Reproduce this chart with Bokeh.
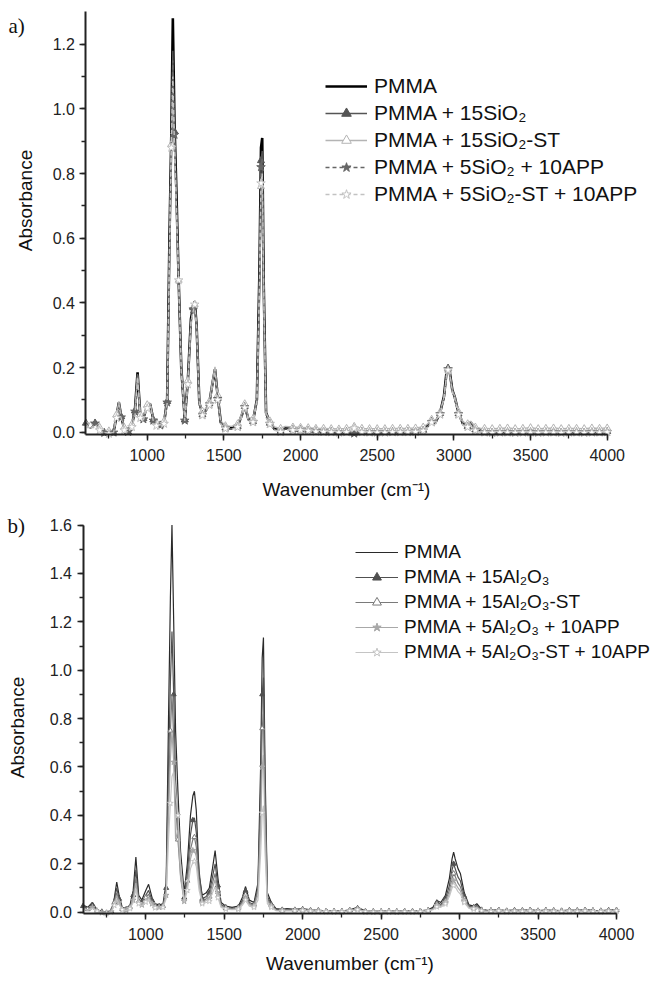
import math
from bokeh.plotting import figure
from bokeh.models import (Range1d, SingleIntervalTicker, Legend, LegendItem, Label,
                          PrintfTickFormatter)
from bokeh.layouts import column
from bokeh.embed import file_html
from bokeh.resources import INLINE

# ---------------- data ----------------
wavenumber = [
    600, 630, 660, 690, 720, 750, 780, 800, 815, 830, 850, 875, 900, 920, 937, 955, 975, 1000,
    1018, 1040, 1060, 1085, 1110, 1130, 1145, 1157, 1167, 1178, 1190, 1205, 1222, 1245, 1265, 1285,
    1300, 1310, 1322, 1340, 1360, 1385, 1405, 1425, 1442, 1460, 1480,
    1510, 1550, 1590, 1615, 1636, 1660, 1690, 1715, 1732, 1742, 1750, 1760, 1775, 1800, 1830, 1870, 1900,
    1950, 2000, 2050, 2100, 2150, 2200, 2250, 2300, 2350, 2400, 2450, 2500, 2550, 2600, 2650, 2700, 2750, 2800,
    2830, 2855, 2880, 2910, 2935, 2952, 2962, 2972, 2990, 3005, 3030, 3060, 3090, 3110, 3140, 3175,
    3200, 3250, 3300, 3350, 3400, 3450, 3500, 3550, 3600, 3650, 3700, 3750, 3800, 3850, 3900, 3950, 4000,
]

# panel a) SiO2 series
a_pmma = [
    0.030, 0.015, 0.030, 0.010, 0.000, -0.003, 0.000, 0.050, 0.092, 0.050, 0.010, 0.003, 0.020, 0.070, 0.185, 0.050, 0.045, 0.080,
    0.088, 0.040, 0.025, 0.025, 0.030, 0.100, 0.600, 0.920, 1.280, 0.950, 0.750, 0.470, 0.200, 0.040, 0.160, 0.350, 0.390, 0.405, 0.330, 0.090, 0.060, 0.070, 0.090, 0.150, 0.195, 0.110, 0.030,
    0.015, 0.012, 0.020, 0.050, 0.082, 0.040, 0.035, 0.100, 0.500, 0.880, 0.910, 0.450, 0.060, 0.030, 0.010, 0.005, 0.012,
    0.010, 0.010, 0.008, 0.005, 0.004, 0.003, 0.002, 0.003, -0.005, 0.003, 0.002, 0.002, 0.002, 0.003, 0.003, 0.003, 0.004, 0.008,
    0.020, 0.036, 0.030, 0.060, 0.110, 0.185, 0.200, 0.190, 0.130, 0.110, 0.060, 0.025, 0.020, 0.030, 0.010, 0.004,
    0.003, 0.002, 0.003, 0.002, 0.002, 0.003, 0.002, 0.002, 0.003, 0.002, 0.002, 0.003, 0.002, 0.003, 0.002, 0.003, 0.004,
]
a_15sio2 = [
    0.028, 0.012, 0.028, 0.008, -0.002, -0.005, -0.002, 0.048, 0.090, 0.048, 0.008, 0.001, 0.018, 0.066, 0.180, 0.048, 0.042, 0.078,
    0.086, 0.038, 0.022, 0.022, 0.028, 0.095, 0.580, 0.900, 1.180, 0.930, 0.730, 0.460, 0.195, 0.038, 0.155, 0.340, 0.385, 0.400, 0.325, 0.088, 0.055, 0.066, 0.088, 0.148, 0.190, 0.105, 0.028,
    0.013, 0.010, 0.018, 0.048, 0.080, 0.038, 0.033, 0.095, 0.480, 0.840, 0.870, 0.440, 0.056, 0.028, 0.008, 0.003, 0.010,
    0.008, 0.008, 0.006, 0.004, 0.003, 0.002, 0.001, 0.002, -0.003, 0.002, 0.001, 0.001, 0.001, 0.002, 0.002, 0.002, 0.003, 0.006,
    0.018, 0.034, 0.028, 0.058, 0.105, 0.180, 0.198, 0.188, 0.128, 0.108, 0.058, 0.024, 0.018, 0.028, 0.008, 0.002,
    0.001, 0.000, 0.001, 0.000, 0.001, 0.001, 0.000, 0.001, 0.001, 0.000, 0.001, 0.001, 0.000, 0.001, 0.000, 0.001, 0.002,
]
a_15sio2_st = [
    0.035, 0.020, 0.032, 0.015, 0.006, 0.004, 0.006, 0.055, 0.095, 0.055, 0.015, 0.010, 0.025, 0.072, 0.175, 0.055, 0.050, 0.085,
    0.090, 0.045, 0.030, 0.030, 0.035, 0.100, 0.560, 0.890, 1.050, 0.900, 0.700, 0.470, 0.205, 0.045, 0.160, 0.340, 0.380, 0.395, 0.330, 0.095, 0.065, 0.075, 0.095, 0.158, 0.202, 0.115, 0.035,
    0.020, 0.018, 0.026, 0.056, 0.088, 0.046, 0.042, 0.100, 0.450, 0.760, 0.800, 0.420, 0.060, 0.035, 0.016, 0.012, 0.018,
    0.016, 0.015, 0.014, 0.012, 0.012, 0.011, 0.010, 0.012, 0.018, 0.012, 0.011, 0.011, 0.011, 0.012, 0.012, 0.012, 0.013, 0.016,
    0.026, 0.040, 0.035, 0.062, 0.108, 0.175, 0.192, 0.185, 0.130, 0.112, 0.064, 0.032, 0.026, 0.034, 0.016, 0.012,
    0.012, 0.011, 0.012, 0.013, 0.011, 0.012, 0.014, 0.011, 0.012, 0.013, 0.011, 0.012, 0.012, 0.011, 0.013, 0.012, 0.013,
]
a_5sio2_app = [
    0.026, 0.012, 0.027, 0.007, -0.002, -0.004, -0.001, 0.046, 0.088, 0.046, 0.007, 0.001, 0.017, 0.064, 0.178, 0.046, 0.040, 0.076,
    0.084, 0.036, 0.021, 0.021, 0.027, 0.092, 0.570, 0.920, 1.150, 0.920, 0.720, 0.470, 0.190, 0.036, 0.150, 0.340, 0.380, 0.398, 0.322, 0.085, 0.054, 0.068, 0.086, 0.145, 0.188, 0.103, 0.026,
    0.012, 0.009, 0.017, 0.046, 0.078, 0.037, 0.032, 0.092, 0.470, 0.820, 0.850, 0.430, 0.046, 0.026, 0.007, 0.002, 0.009,
    0.007, 0.007, 0.005, 0.003, 0.002, 0.001, 0.000, 0.001, -0.004, 0.001, 0.000, 0.000, 0.000, 0.001, 0.001, 0.001, 0.002, 0.005,
    0.017, 0.032, 0.026, 0.056, 0.108, 0.178, 0.195, 0.186, 0.125, 0.106, 0.056, 0.022, 0.017, 0.026, 0.006, 0.001,
    0.000, -0.001, 0.000, 0.000, -0.001, 0.000, 0.000, -0.001, 0.000, 0.000, -0.001, 0.000, 0.000, -0.001, 0.000, 0.000, 0.001,
]
a_5sio2_st_app = [
    0.024, 0.010, 0.025, 0.006, -0.003, -0.005, -0.002, 0.044, 0.086, 0.044, 0.006, 0.000, 0.016, 0.048, 0.170, 0.044, 0.038, 0.074,
    0.082, 0.034, 0.020, 0.020, 0.026, 0.090, 0.550, 0.880, 1.100, 0.880, 0.700, 0.470, 0.185, 0.035, 0.148, 0.335, 0.375, 0.395, 0.320, 0.080, 0.052, 0.066, 0.084, 0.142, 0.186, 0.100, 0.025,
    0.011, 0.008, 0.016, 0.045, 0.076, 0.036, 0.031, 0.090, 0.450, 0.770, 0.800, 0.420, 0.046, 0.025, 0.006, 0.001, 0.008,
    0.006, 0.006, 0.004, 0.002, 0.001, 0.000, -0.001, 0.000, 0.012, 0.000, -0.001, -0.001, -0.001, 0.000, 0.000, 0.000, 0.001, 0.004,
    0.016, 0.030, 0.025, 0.054, 0.105, 0.175, 0.192, 0.184, 0.122, 0.104, 0.054, 0.021, 0.016, 0.025, 0.005, 0.000,
    -0.001, -0.002, -0.001, -0.001, -0.002, -0.001, -0.001, -0.002, -0.001, -0.001, -0.002, -0.001, -0.001, -0.002, -0.001, -0.001, 0.000,
]

# panel b) Al2O3 series
b_pmma = [
    0.030, 0.020, 0.040, 0.010, 0.003, 0.000, 0.005, 0.060, 0.124, 0.070, 0.020, 0.015, 0.030, 0.090, 0.228, 0.070, 0.050, 0.090,
    0.115, 0.060, 0.035, 0.030, 0.035, 0.120, 0.800, 1.300, 1.600, 1.200, 0.750, 0.500, 0.250, 0.080, 0.200, 0.400, 0.480, 0.500, 0.420, 0.150, 0.070, 0.080, 0.100, 0.180, 0.255, 0.140, 0.040,
    0.025, 0.020, 0.025, 0.060, 0.106, 0.050, 0.040, 0.120, 0.600, 1.050, 1.135, 0.600, 0.080, 0.040, 0.015, 0.012, 0.015,
    0.012, 0.015, 0.010, 0.008, 0.006, 0.005, 0.005, 0.010, 0.020, 0.005, 0.004, 0.004, 0.005, 0.004, 0.005, 0.005, 0.006, 0.010,
    0.020, 0.048, 0.040, 0.070, 0.140, 0.220, 0.248, 0.220, 0.180, 0.160, 0.080, 0.030, 0.025, 0.035, 0.012, 0.008,
    0.008, 0.010, 0.007, 0.009, 0.008, 0.010, 0.007, 0.009, 0.008, 0.007, 0.009, 0.008, 0.010, 0.008, 0.007, 0.009, 0.010,
]
b_15al2o3 = [
    0.025, 0.015, 0.030, 0.008, 0.002, 0.000, 0.004, 0.050, 0.100, 0.055, 0.016, 0.012, 0.025, 0.070, 0.175, 0.055, 0.040, 0.070,
    0.090, 0.048, 0.028, 0.025, 0.028, 0.100, 0.600, 0.950, 1.160, 0.900, 0.550, 0.360, 0.180, 0.060, 0.160, 0.320, 0.380, 0.390, 0.330, 0.170, 0.055, 0.065, 0.080, 0.145, 0.200, 0.110, 0.032,
    0.020, 0.016, 0.020, 0.048, 0.088, 0.040, 0.032, 0.100, 0.500, 0.900, 0.970, 0.520, 0.065, 0.032, 0.012, 0.010, 0.012,
    0.010, 0.012, 0.008, 0.007, 0.005, 0.004, 0.004, 0.008, 0.016, 0.004, 0.003, 0.003, 0.004, 0.003, 0.004, 0.004, 0.005, 0.008,
    0.016, 0.040, 0.032, 0.056, 0.110, 0.175, 0.200, 0.180, 0.145, 0.130, 0.065, 0.025, 0.020, 0.028, 0.010, 0.007,
    0.007, 0.009, 0.006, 0.008, 0.007, 0.009, 0.006, 0.008, 0.007, 0.006, 0.008, 0.007, 0.009, 0.007, 0.006, 0.008, 0.009,
]
b_15al2o3_st = [
    0.020, 0.012, 0.025, 0.006, 0.000, -0.002, 0.003, 0.040, 0.080, 0.045, 0.013, 0.010, 0.020, 0.060, 0.140, 0.045, 0.035, 0.060,
    0.075, 0.040, 0.024, 0.022, 0.025, 0.080, 0.480, 0.750, 0.900, 0.720, 0.450, 0.300, 0.150, 0.050, 0.130, 0.260, 0.300, 0.310, 0.270, 0.130, 0.045, 0.055, 0.065, 0.120, 0.160, 0.090, 0.028,
    0.017, 0.013, 0.018, 0.040, 0.072, 0.035, 0.028, 0.090, 0.420, 0.760, 0.820, 0.440, 0.055, 0.028, 0.010, 0.008, 0.010,
    0.008, 0.010, 0.007, 0.006, 0.004, 0.003, 0.003, 0.007, 0.014, 0.003, 0.002, 0.002, 0.003, 0.002, 0.003, 0.003, 0.004, 0.007,
    0.014, 0.034, 0.028, 0.046, 0.090, 0.140, 0.160, 0.148, 0.120, 0.105, 0.055, 0.022, 0.018, 0.024, 0.008, 0.006,
    0.006, 0.008, 0.005, 0.007, 0.006, 0.008, 0.005, 0.007, 0.006, 0.005, 0.007, 0.006, 0.008, 0.006, 0.005, 0.007, 0.008,
]
b_5al2o3_app = [
    0.018, 0.010, 0.020, 0.005, -0.002, -0.004, 0.002, 0.035, 0.068, 0.040, 0.012, 0.008, 0.018, 0.050, 0.120, 0.040, 0.030, 0.050,
    0.063, 0.035, 0.020, 0.020, 0.022, 0.070, 0.400, 0.630, 0.750, 0.620, 0.300, 0.340, 0.140, 0.045, 0.110, 0.220, 0.255, 0.260, 0.230, 0.110, 0.040, 0.048, 0.055, 0.100, 0.135, 0.075, 0.024,
    0.015, 0.012, 0.015, 0.035, 0.060, 0.030, 0.025, 0.070, 0.340, 0.600, 0.650, 0.350, 0.045, 0.025, 0.008, 0.006, 0.008,
    0.007, 0.009, 0.006, 0.005, 0.003, 0.002, 0.002, 0.006, 0.012, 0.002, 0.001, 0.001, 0.002, 0.001, 0.002, 0.002, 0.003, 0.006,
    0.012, 0.028, 0.024, 0.040, 0.075, 0.115, 0.130, 0.120, 0.100, 0.088, 0.046, 0.019, 0.016, 0.020, 0.006, 0.004,
    0.004, 0.006, 0.003, 0.005, 0.004, 0.006, 0.003, 0.005, 0.004, 0.003, 0.005, 0.004, 0.006, 0.004, 0.003, 0.005, 0.006,
]
b_5al2o3_st_app = [
    0.015, 0.008, 0.016, 0.004, -0.003, -0.005, 0.000, 0.028, 0.055, 0.032, 0.010, 0.006, 0.015, 0.040, 0.095, 0.035, 0.025, 0.042,
    0.052, 0.030, 0.018, 0.017, 0.020, 0.055, 0.300, 0.450, 0.560, 0.580, 0.500, 0.400, 0.200, 0.040, 0.090, 0.180, 0.205, 0.210, 0.190, 0.090, 0.035, 0.040, 0.045, 0.080, 0.105, 0.060, 0.020,
    0.013, 0.010, 0.012, 0.028, 0.050, 0.025, 0.020, 0.050, 0.240, 0.410, 0.440, 0.250, 0.035, 0.020, 0.006, 0.004, 0.006,
    0.005, 0.007, 0.004, 0.003, 0.002, 0.001, 0.001, 0.005, 0.010, 0.001, 0.000, 0.000, 0.001, 0.000, 0.001, 0.001, 0.002, 0.005,
    0.010, 0.022, 0.020, 0.034, 0.065, 0.100, 0.110, 0.105, 0.085, 0.075, 0.040, 0.016, 0.013, 0.017, 0.005, 0.003,
    0.003, 0.005, 0.002, 0.004, 0.003, 0.005, 0.002, 0.004, 0.003, 0.002, 0.004, 0.003, 0.005, 0.003, 0.002, 0.004, 0.005,
]

labels_a = ["PMMA", "PMMA + 15SiO\u2082", "PMMA + 15SiO\u2082-ST",
            "PMMA + 5SiO\u2082 + 10APP", "PMMA + 5SiO\u2082-ST + 10APP"]
labels_b = ["PMMA", "PMMA + 15Al\u2082O\u2083", "PMMA + 15Al\u2082O\u2083-ST",
            "PMMA + 5Al\u2082O\u2083 + 10APP", "PMMA + 5Al\u2082O\u2083-ST + 10APP"]

x_axis_start, x_axis_end = 600, 4000
ya_axis_top, yb_axis_top = 1.30, 1.60

series_a = [a_pmma, a_15sio2, a_15sio2_st, a_5sio2_app, a_5sio2_st_app]
series_b = [b_pmma, b_15al2o3, b_15al2o3_st, b_5al2o3_app, b_5al2o3_st_app]
for s in series_a + series_b:
    if len(s) != len(wavenumber):
        raise ValueError("length mismatch %d vs %d" % (len(s), len(wavenumber)))

# ---------------- styles ----------------
# (color, width, dash, marker, filled, marker size)
styles_a = [
    ("#000000", 2.6, "solid", None, False, 0),
    ("#555555", 1.4, "solid", "triangle", True, 7),
    ("#b4b4b4", 1.4, "solid", "triangle", False, 7),
    ("#666666", 1.4, "4 3", "star", True, 9),
    ("#c2c2c2", 1.4, "4 3", "star", False, 9),
]
styles_b = [
    ("#2a2a2a", 1.2, "solid", None, False, 0),
    ("#505050", 1.2, "solid", "triangle", True, 5),
    ("#7a7a7a", 1.2, "solid", "triangle", False, 5),
    ("#a8a8a8", 1.2, "solid", "star", True, 6),
    ("#c4c4c4", 1.2, "solid", "star", False, 6),
]

FONT = "Liberation Sans"


def marker_indices(offset, min_gap=45):
    idx = []
    last = None
    for i in range(max(offset, 0), len(wavenumber)):
        if last is None or wavenumber[i] - last >= min_gap:
            idx.append(i)
            last = wavenumber[i]
    return idx


def make_panel(series, labels, styles, width, height, x_range, y_range, x_axis_y,
               y_axis_top, x_lab_standoff, legend_cfg, tag, tag_xy, ylab_xy):
    p = figure(width=width, height=height, output_backend="svg", toolbar_location=None,
               x_range=Range1d(*x_range), y_range=Range1d(*y_range),
               min_border_left=0, min_border_right=0, min_border_top=0,
               min_border_bottom=0)
    p.outline_line_color = None
    p.xgrid.visible = False
    p.ygrid.visible = False
    p.background_fill_color = "white"
    p.border_fill_color = "white"

    p.xaxis.ticker = SingleIntervalTicker(interval=500, num_minor_ticks=2)
    p.yaxis.ticker = SingleIntervalTicker(interval=0.2, num_minor_ticks=2)
    p.yaxis.formatter = PrintfTickFormatter(format="%.1f")
    p.xaxis.bounds = (x_axis_start, x_axis_end)
    p.yaxis.bounds = (x_axis_y, y_axis_top)
    p.yaxis.fixed_location = x_axis_start
    p.xaxis.fixed_location = x_axis_y
    p.xaxis.axis_label = "Wavenumber (cm\u207b\u00b9)"
    for ax in (p.xaxis[0], p.yaxis[0]):
        ax.axis_line_width = 2
        ax.axis_line_color = "#222222"
        ax.major_tick_line_color = "#222222"
        ax.minor_tick_line_color = "#222222"
        ax.major_tick_line_width = 1.5
        ax.minor_tick_line_width = 1.3
        ax.major_tick_in = 0
        ax.major_tick_out = 6
        ax.minor_tick_in = 0
        ax.minor_tick_out = 4
        ax.major_label_text_font = FONT
        ax.major_label_text_font_size = "16px"
        ax.major_label_text_color = "#222222"
        ax.axis_label_text_font = FONT
        ax.axis_label_text_font_size = "19px"
        ax.axis_label_text_font_style = "normal"
        ax.axis_label_text_color = "#111111"
    p.xaxis.major_label_standoff = 8
    p.xaxis.axis_label_standoff = x_lab_standoff
    p.yaxis.major_label_standoff = 5

    p.add_layout(Label(x=ylab_xy[0], y=ylab_xy[1], x_units="screen", y_units="screen",
                       text="Absorbance", angle=math.pi / 2, text_align="center",
                       text_baseline="middle", text_font=FONT, text_font_size="19px",
                       text_color="#111111"))

    items = []
    for k, (ys, lab, st) in enumerate(zip(series, labels, styles)):
        color, lw, dash, marker, filled, msize = st
        r_line = p.line(wavenumber, ys, line_color=color, line_width=lw, line_dash=dash)
        rends = [r_line]
        if marker is not None:
            idx = marker_indices(k - 1)
            mx = [wavenumber[i] for i in idx]
            my = [ys[i] for i in idx]
            r_m = p.scatter(mx, my, marker=marker, size=msize, line_color=color,
                            fill_color=color if filled else "white", line_width=1)
            rends.append(r_m)
        items.append(LegendItem(label=lab, renderers=rends))

    loc, font_size, lab_h, spacing, glyph_w, standoff = legend_cfg
    legend = Legend(items=items, location=loc, orientation="vertical",
                    label_text_font=FONT, label_text_font_size=font_size,
                    label_text_color="#111111", glyph_width=glyph_w, glyph_height=lab_h,
                    label_height=lab_h, spacing=spacing, padding=0, margin=0,
                    label_standoff=standoff, border_line_color=None,
                    background_fill_alpha=0)
    p.add_layout(legend, "center")

    p.add_layout(Label(x=tag_xy[0], y=tag_xy[1], x_units="screen", y_units="screen",
                       text=tag, text_font="Liberation Serif", text_font_size="21px",
                       text_color="#111111", text_baseline="middle"))
    return p


# panel a: frame covers page x 0..655, y 0..505
pa = make_panel(series_a, labels_a, styles_a, 655, 505,
                (43.0, 4315.0), (-0.2267, 1.3353), -0.0071, ya_axis_top, 15,
                ((325, 299), "21px", 24, 3, 42, 7), "a)", (8, 480), (25, 305))
# panel b: frame covers page x 0..655, y 505..981
pb = make_panel(series_b, labels_b, styles_b, 655, 476,
                (74.2, 4248.6), (-0.2864, 1.6806), -0.0054, yb_axis_top, 10,
                ((355, 318), "19px", 22, 3, 43, 6), "b)", (7, 456), (17, 254))

layout = column(pa, pb, spacing=0)
open("out.html", "w").write(file_html(layout, INLINE))
